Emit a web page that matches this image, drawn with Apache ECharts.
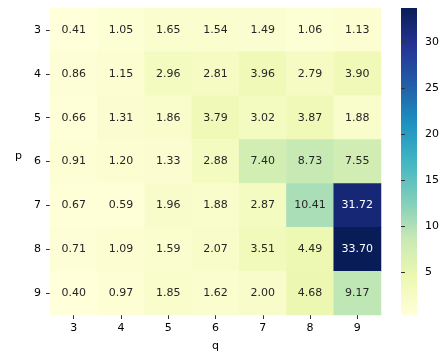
<!DOCTYPE html>
<html><head><meta charset="utf-8">
<script src="https://cdn.jsdelivr.net/npm/echarts@6/dist/echarts.min.js"></script>
<style>html,body{margin:0;padding:0;background:#fff}#c{width:448px;height:359px}</style>
</head><body><div id="c"></div>
<script>
var qLabels = ['3','4','5','6','7','8','9'];
var pLabels = ['3','4','5','6','7','8','9'];
var rowP3 = [0.41, 1.05, 1.65, 1.54, 1.49, 1.06, 1.13];
var rowP4 = [0.86, 1.15, 2.96, 2.81, 3.96, 2.79, 3.90];
var rowP5 = [0.66, 1.31, 1.86, 3.79, 3.02, 3.87, 1.88];
var rowP6 = [0.91, 1.20, 1.33, 2.88, 7.40, 8.73, 7.55];
var rowP7 = [0.67, 0.59, 1.96, 1.88, 2.87, 10.41, 31.72];
var rowP8 = [0.71, 1.09, 1.59, 2.07, 3.51, 4.49, 33.70];
var rowP9 = [0.40, 0.97, 1.85, 1.62, 2.00, 4.68, 9.17];
var colorbarTicks = [5, 10, 15, 20, 25, 30];

var rows = [rowP3, rowP4, rowP5, rowP6, rowP7, rowP8, rowP9];
var vmin = Infinity, vmax = -Infinity;
rows.forEach(function(r){ r.forEach(function(v){ vmin=Math.min(vmin,v); vmax=Math.max(vmax,v); }); });
var data = [];
rows.forEach(function(r, i){
  r.forEach(function(v, j){
    data.push({value:[j, i, v], label:{color: v > 20 ? '#ffffff' : '#262626'}});
  });
});
var ylgnbu = ['#ffffd9','#edf8b1','#c7e9b4','#7fcdbb','#41b6c4','#1d91c0','#225ea8','#253494','#081d58'];
var stops = ylgnbu.map(function(c, i){ return {offset: i/(ylgnbu.length-1), color: c}; });
var font = 'DejaVu Sans';
var chart = echarts.init(document.getElementById('c'));
chart.setOption({
  animation:false,
  textStyle:{fontFamily:font},
  grid:[
    {left:50, top:8, width:331, height:307},
    {left:401, top:8, width:16, height:307, show:true, borderWidth:0,
     backgroundColor: new echarts.graphic.LinearGradient(0, 1, 0, 0, stops)}
  ],
  xAxis:[
    {type:'category', data:qLabels, gridIndex:0, position:'bottom',
     axisLine:{show:false}, splitLine:{show:false},
     axisTick:{show:true, alignWithLabel:true, length:4, lineStyle:{color:'#333'}},
     axisLabel:{color:'#000', fontSize:11, margin:8, fontFamily:font},
     name:'q', nameLocation:'middle', nameGap:26,
     nameTextStyle:{color:'#000', fontSize:11, fontFamily:font}},
    {type:'value', gridIndex:1, show:false, min:0, max:1}
  ],
  yAxis:[
    {type:'category', data:pLabels, gridIndex:0, inverse:true,
     axisLine:{show:false}, splitLine:{show:false},
     axisTick:{show:true, alignWithLabel:true, length:4, lineStyle:{color:'#333'}},
     axisLabel:{color:'#000', fontSize:11, margin:9, fontFamily:font},
     name:'p', nameLocation:'middle', nameRotate:0, nameGap:28,
     nameTextStyle:{color:'#000', fontSize:11, fontFamily:font, verticalAlign:'bottom'}},
    {type:'value', gridIndex:1, position:'right', min:vmin, max:vmax,
     axisLine:{show:false}, splitLine:{show:false},
     axisTick:{show:true, length:4, customValues:colorbarTicks, lineStyle:{color:'#333'}},
     axisLabel:{show:true, customValues:colorbarTicks, color:'#000', fontSize:11, margin:8, fontFamily:font}}
  ],
  visualMap:{
    type:'continuous', min:vmin, max:vmax, seriesIndex:0, show:false,
    inRange:{color:ylgnbu}
  },
  series:[{
    type:'heatmap', xAxisIndex:0, yAxisIndex:0, data:data,
    itemStyle:{borderWidth:0},
    label:{show:true, fontSize:11, fontFamily:font,
      formatter:function(p){ return p.value[2].toFixed(2); }},
    emphasis:{disabled:true}
  }]
});
</script></body></html>
